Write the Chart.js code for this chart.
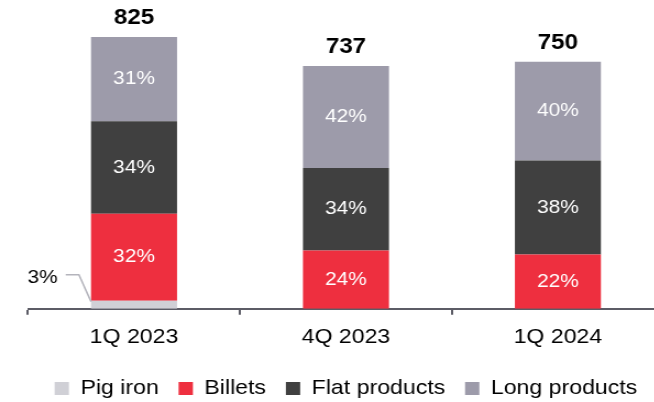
<!DOCTYPE html>
<html>
<head>
<meta charset="utf-8">
<script src="https://cdn.jsdelivr.net/npm/chart.js@4/dist/chart.umd.min.js"></script>
<style>
  html, body { margin: 0; padding: 0; background: #fff; overflow: hidden; }
  /* the chart is drawn slightly narrow and widened to keep the wide lettering */
  #wrap { width: 618px; height: 402px; position: relative; transform: scaleX(1.1); transform-origin: 0 0; }
</style>
</head>
<body>
<div id="wrap"><canvas id="salesMix"></canvas></div>
<script>
// Sales volume by product (kt) and share of each product, %
const quarters = ['1Q 2023', '4Q 2023', '1Q 2024'];
const totals = [825, 737, 750];
const pigIronShare = [3, 0, 0];
const billetsShare = [32, 24, 22];
const flatShare = [34, 34, 38];
const longShare = [31, 42, 40];

const FONT = '"Liberation Sans", Arial, sans-serif';

function toVolume(shares) {
  return shares.map((s, i) => totals[i] * s / 100);
}

const series = [
  { label: 'Pig iron', shares: pigIronShare, color: '#d0d0d6', text: '#000' },
  { label: 'Billets', shares: billetsShare, color: '#ee2f3f', text: '#fff' },
  { label: 'Flat products', shares: flatShare, color: '#404040', text: '#fff' },
  { label: 'Long products', shares: longShare, color: '#9d9baa', text: '#fff' }
];

// percentages inside segments, totals on top, leader for the thin pig iron slice
const barLabels = {
  id: 'barLabels',
  afterDatasetsDraw(chart) {
    const ctx = chart.ctx;
    ctx.save();
    ctx.textAlign = 'center';
    ctx.textBaseline = 'middle';
    series.forEach((s, di) => {
      const meta = chart.getDatasetMeta(di);
      meta.data.forEach((bar, i) => {
        const share = s.shares[i];
        if (!share) return;
        if (di === 0) {
          // small slice: label off to the left with a leader line
          const left = bar.x - bar.width / 2;
          ctx.strokeStyle = '#b4b4bc';
          ctx.lineWidth = 1.5;
          ctx.beginPath();
          ctx.moveTo(left - 23, bar.base - 34);
          ctx.lineTo(left - 11, bar.base - 34);
          ctx.lineTo(left, bar.y + 1);
          ctx.stroke();
          ctx.fillStyle = '#000';
          ctx.font = '19px ' + FONT;
          ctx.fillText(share + '%', left - 44, bar.base - 31);
          return;
        }
        ctx.fillStyle = s.text;
        ctx.font = '19px ' + FONT;
        ctx.fillText(share + '%', bar.x, (bar.y + bar.base) / 2);
      });
    });
    const top = chart.getDatasetMeta(series.length - 1);
    ctx.fillStyle = '#000';
    ctx.font = 'bold 22px ' + FONT;
    top.data.forEach((bar, i) => {
      ctx.fillText(String(totals[i]), bar.x, bar.y - 19);
    });
    ctx.restore();
  }
};

new Chart(document.getElementById('salesMix').getContext('2d'), {
  type: 'bar',
  data: {
    labels: quarters,
    datasets: series.map(s => ({
      label: s.label,
      data: toVolume(s.shares),
      backgroundColor: s.color,
      borderWidth: 0,
      barPercentage: 0.406,
      categoryPercentage: 1
    }))
  },
  options: {
    responsive: true,
    maintainAspectRatio: false,
    animation: false,
    layout: { padding: { top: 37, left: 25.5, right: 14.5, bottom: -7 } },
    plugins: {
      tooltip: { enabled: false },
      legend: {
        position: 'bottom',
        labels: {
          boxWidth: 13,
          boxHeight: 13,
          padding: 18,
          color: '#000',
          font: { family: FONT, size: 21 }
        }
      }
    },
    scales: {
      x: {
        stacked: true,
        offset: true,
        border: { display: true, color: '#5c5c66', width: 2 },
        grid: { display: true, drawOnChartArea: false, offset: true, tickLength: 6, tickColor: '#5c5c66', lineWidth: 2 },
        ticks: { color: '#000', padding: 10, font: { family: FONT, size: 21 } }
      },
      y: {
        stacked: true,
        display: false,
        min: 0,
        max: 825
      }
    }
  },
  plugins: [barLabels]
});
</script>
</body>
</html>
